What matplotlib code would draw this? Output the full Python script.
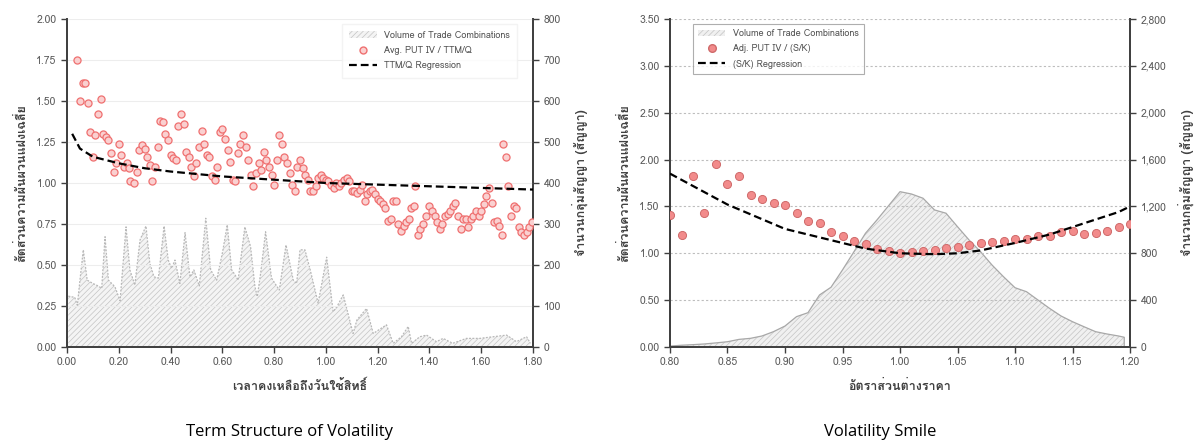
import matplotlib
matplotlib.use("Agg")
import matplotlib.pyplot as plt
from matplotlib import font_manager, ft2font
from matplotlib.patches import Patch
from matplotlib.lines import Line2D
from matplotlib.ticker import FuncFormatter, MultipleLocator

# ---------------- data: term structure ----------------
ttm_x = [0.04, 0.05, 0.06, 0.07, 0.08, 0.09, 0.10, 0.11, 0.12, 0.13, 0.14, 0.15, 0.16, 0.17, 0.18, 0.19,
         0.20, 0.21, 0.22, 0.23, 0.24, 0.245, 0.26, 0.27, 0.28, 0.29, 0.30, 0.31, 0.32, 0.33, 0.34, 0.35,
         0.36, 0.37, 0.38, 0.39, 0.40, 0.41, 0.42, 0.43, 0.44, 0.45, 0.46, 0.47, 0.48, 0.49, 0.50, 0.51,
         0.52, 0.53, 0.54, 0.55, 0.56, 0.57, 0.58, 0.59, 0.60, 0.61, 0.62, 0.63, 0.64, 0.65, 0.66, 0.67,
         0.68, 0.69, 0.70, 0.71, 0.72, 0.73, 0.74, 0.75, 0.76, 0.77, 0.78, 0.79, 0.80, 0.81, 0.82, 0.83,
         0.84, 0.85, 0.86, 0.87, 0.88, 0.89, 0.90, 0.91, 0.92, 0.93, 0.94, 0.95, 0.96, 0.97, 0.98, 0.99,
         1.00, 1.01, 1.02, 1.03, 1.04, 1.05, 1.06, 1.07, 1.08, 1.09, 1.10, 1.11, 1.12, 1.13, 1.14, 1.15,
         1.16, 1.17, 1.18, 1.19, 1.20, 1.21, 1.22, 1.23, 1.24, 1.25, 1.26, 1.27, 1.28, 1.29, 1.30, 1.31,
         1.32, 1.33, 1.34, 1.345, 1.355, 1.365, 1.375, 1.385, 1.40, 1.41, 1.42, 1.43, 1.44, 1.45, 1.46,
         1.47, 1.48, 1.49, 1.50, 1.51, 1.52, 1.53, 1.54, 1.55, 1.56, 1.57, 1.58, 1.59, 1.60, 1.61, 1.62,
         1.63, 1.64, 1.65, 1.66, 1.67, 1.68, 1.685, 1.695, 1.705, 1.715, 1.725, 1.735, 1.745, 1.755,
         1.765, 1.775, 1.785, 1.795]
ttm_iv = [1.75, 1.50, 1.61, 1.61, 1.49, 1.31, 1.16, 1.29, 1.42, 1.51, 1.30, 1.28, 1.26, 1.18, 1.07, 1.12,
          1.24, 1.17, 1.10, 1.12, 1.09, 1.01, 1.00, 1.07, 1.20, 1.23, 1.21, 1.16, 1.11, 1.01, 1.10, 1.22,
          1.38, 1.37, 1.30, 1.26, 1.17, 1.15, 1.14, 1.35, 1.42, 1.36, 1.19, 1.16, 1.10, 1.04, 1.12, 1.22,
          1.32, 1.24, 1.17, 1.16, 1.04, 1.02, 1.10, 1.31, 1.33, 1.27, 1.20, 1.13, 1.02, 1.01, 1.18, 1.24,
          1.29, 1.22, 1.14, 1.05, 0.98, 1.06, 1.12, 1.08, 1.19, 1.14, 1.10, 1.05, 0.99, 1.14, 1.29, 1.24,
          1.16, 1.12, 1.06, 0.99, 0.95, 1.10, 1.14, 1.09, 1.05, 1.02, 0.95, 0.95, 0.98, 1.03, 1.05, 1.03,
          1.02, 1.01, 0.99, 0.97, 1.00, 0.98, 1.00, 1.02, 1.03, 1.01, 0.95, 0.95, 0.94, 0.96, 0.99, 0.89,
          0.93, 0.95, 0.96, 0.93, 0.90, 0.89, 0.87, 0.85, 0.77, 0.78, 0.89, 0.89, 0.75, 0.71, 0.74, 0.76,
          0.78, 0.85, 0.86, 0.98, 0.68, 0.72, 0.75, 0.80, 0.86, 0.83, 0.80, 0.76, 0.72, 0.75, 0.80,
          0.81, 0.83, 0.86, 0.88, 0.80, 0.72, 0.78, 0.78, 0.73, 0.78, 0.80, 0.83, 0.80, 0.83, 0.87, 0.92,
          0.97, 0.88, 0.76, 0.77, 0.74, 0.68, 1.24, 1.16, 0.98, 0.80, 0.86, 0.85, 0.73, 0.70,
          0.68, 0.70, 0.73, 0.76]

ttm_reg_x = [0.02, 0.05, 0.10, 0.20, 0.30, 0.40, 0.60, 0.80, 1.00, 1.20, 1.40, 1.60, 1.80]
ttm_reg_y = [1.30, 1.21, 1.16, 1.12, 1.09, 1.07, 1.04, 1.02, 1.00, 0.99, 0.98, 0.97, 0.96]

ttm_vol_x = [0.005, 0.03, 0.04, 0.05, 0.063, 0.078, 0.10, 0.12, 0.134, 0.147, 0.16, 0.185, 0.205, 0.228,
             0.243, 0.262, 0.282, 0.305, 0.32, 0.336, 0.353, 0.375, 0.391, 0.404, 0.417, 0.436, 0.456,
             0.475, 0.49, 0.511, 0.536, 0.555, 0.578, 0.601, 0.619, 0.636, 0.649, 0.661, 0.687, 0.709,
             0.726, 0.735, 0.748, 0.767, 0.79, 0.82, 0.846, 0.874, 0.887, 0.90, 0.919, 0.938, 0.97, 1.003,
             1.028, 1.044, 1.067, 1.105, 1.12, 1.157, 1.183, 1.234, 1.26, 1.292, 1.318, 1.331, 1.363,
             1.389, 1.427, 1.453, 1.49, 1.543, 1.595, 1.646, 1.698, 1.736, 1.775, 1.79]
ttm_vol = [124, 121, 102, 163, 237, 163, 155, 149, 143, 269, 163, 147, 113, 293,
           188, 151, 261, 295, 204, 171, 168, 295, 212, 192, 212, 155, 279,
           171, 188, 149, 314, 188, 163, 232, 298, 188, 176, 163, 293, 245,
           147, 123, 180, 281, 168, 139, 249, 163, 155, 237, 237, 192, 107, 219,
           86, 100, 127, 33, 66, 94, 33, 54, 9, 25, 50, 9, 25,
           29, 13, 21, 9, 21, 21, 25, 29, 13, 25, 9]

# ---------------- data: volatility smile ----------------
sk_x = [0.80, 0.81, 0.82, 0.83, 0.84, 0.85, 0.86, 0.87, 0.88, 0.89, 0.90, 0.91, 0.92, 0.93, 0.94, 0.95,
        0.96, 0.97, 0.98, 0.99, 1.00, 1.01, 1.02, 1.03, 1.04, 1.05, 1.06, 1.07, 1.08, 1.09, 1.10, 1.11,
        1.12, 1.13, 1.14, 1.15, 1.16, 1.17, 1.18, 1.19, 1.20]
sk_iv = [1.41, 1.20, 1.83, 1.43, 1.95, 1.74, 1.83, 1.62, 1.58, 1.54, 1.52, 1.43, 1.34, 1.32, 1.23, 1.18,
         1.13, 1.10, 1.05, 1.02, 1.00, 1.01, 1.02, 1.04, 1.06, 1.07, 1.09, 1.11, 1.12, 1.13, 1.15, 1.15,
         1.18, 1.18, 1.23, 1.24, 1.21, 1.22, 1.24, 1.28, 1.31]

sk_reg_x = [0.80, 0.85, 0.90, 0.95, 0.97, 1.00, 1.03, 1.05, 1.07, 1.10, 1.13, 1.16, 1.19, 1.20]
sk_reg_y = [1.85, 1.52, 1.26, 1.11, 1.05, 1.00, 0.99, 1.00, 1.03, 1.11, 1.20, 1.32, 1.44, 1.50]

sk_vol_x = [0.80, 0.81, 0.82, 0.83, 0.84, 0.85, 0.86, 0.87, 0.88, 0.89, 0.90, 0.91, 0.92, 0.93, 0.94,
            0.95, 0.96, 0.97, 0.98, 0.99, 1.00, 1.01, 1.02, 1.03, 1.04, 1.05, 1.06, 1.07, 1.08, 1.09,
            1.10, 1.11, 1.12, 1.13, 1.14, 1.15, 1.16, 1.17, 1.18, 1.19, 1.195]
sk_vol = [8, 15, 20, 26, 35, 45, 65, 74, 94, 131, 179, 259, 293, 444, 510,
          658, 814, 971, 1085, 1205, 1326, 1306, 1270, 1170, 1142, 1027, 914, 814, 700, 600,
          506, 472, 401, 330, 265, 216, 173, 131, 111, 94, 83]

# ---------------- text ----------------
title_left = "Term Structure of Volatility"
title_right = "Volatility Smile"
xlabel_left = "เวลาคงเหลือถึงวันใช้สิทธิ์"
xlabel_right = "อัตราส่วนต่างราคา"
ylabel_iv = "สัดส่วนความผันผวนแฝงเฉลี่ย"
ylabel_vol = "จำนวนกลุ่มสัญญา (สัญญา)"

# ---------------- fonts ----------------
thai_family = None
for fe in font_manager.fontManager.ttflist:
    try:
        f = ft2font.FT2Font(fe.fname)
        if f.get_char_index(0x0E2A) and f.get_char_index(0x0E31):
            thai_family = fe.name
            break
    except Exception:
        pass
families = ([thai_family] if thai_family else []) + ["DejaVu Sans"]
plt.rcParams["font.family"] = families
plt.rcParams["hatch.linewidth"] = 0.5

TICK_COLOR = "#595959"
SPINE_COLOR = "#404040"
HATCH_EDGE = "#c4c4c4"

fig = plt.figure(figsize=(11.95, 4.45), dpi=100)


def style_axes(ax, ax2):
    for a in (ax, ax2):
        a.spines["top"].set_visible(False)
        for s in ("left", "right", "bottom"):
            a.spines[s].set_color(SPINE_COLOR)
            a.spines[s].set_linewidth(1.3)
        a.tick_params(colors=SPINE_COLOR, labelcolor=TICK_COLOR, labelsize=7.5,
                      direction="out", length=4, width=1.0)
    ax.set_zorder(ax2.get_zorder() + 1)
    ax.patch.set_visible(False)


# ---------------- left chart ----------------
axL = fig.add_axes([67 / 1195, 98 / 445, 466 / 1195, 328 / 445])
axL2 = axL.twinx()
style_axes(axL, axL2)

axL2.fill_between(ttm_vol_x, ttm_vol, 0, facecolor="#f4f4f4", edgecolor=HATCH_EDGE,
                  hatch="//////", linewidth=0.0)
axL2.plot(ttm_vol_x, ttm_vol, color="#b8b8b8", linestyle=(0, (1.5, 1.2)), linewidth=0.9)
axL2.set_ylim(0, 800)
axL2.yaxis.set_major_locator(MultipleLocator(100))

axL.scatter(ttm_x, ttm_iv, s=26, facecolor="#fad0d0", edgecolor="#ef7070", linewidth=0.9, zorder=3)
axL.plot(ttm_reg_x, ttm_reg_y, color="black", linestyle=(0, (3.5, 1.8)), linewidth=1.6, zorder=4)
axL.set_xlim(0, 1.8)
axL.set_ylim(0, 2.0)
axL.xaxis.set_major_locator(MultipleLocator(0.2))
axL.yaxis.set_major_locator(MultipleLocator(0.25))
axL.xaxis.set_major_formatter(FuncFormatter(lambda v, p: f"{v:.2f}"))
axL.yaxis.set_major_formatter(FuncFormatter(lambda v, p: f"{v:.2f}"))
axL.grid(axis="y", color="#ededed", linewidth=0.8)
axL.set_axisbelow(True)
axL.set_xlabel(xlabel_left, fontsize=9, fontweight="bold", color="#404040", labelpad=9)
axL.set_ylabel(ylabel_iv, fontsize=9, fontweight="bold", color="#404040", labelpad=6)
axL2.set_ylabel(ylabel_vol, fontsize=9, fontweight="bold", color="#404040", rotation=90, labelpad=8)

handlesL = [Patch(facecolor="#f4f4f4", edgecolor=HATCH_EDGE, hatch="//////", linewidth=0.0),
            Line2D([], [], linestyle="none", marker="o", markersize=5, markerfacecolor="#fad0d0",
                   markeredgecolor="#ef7070"),
            Line2D([], [], color="black", linestyle=(0, (3.5, 1.8)), linewidth=1.6)]
legL = axL.legend(handlesL, ["Volume of Trade Combinations", "Avg. PUT IV / TTM/Q", "TTM/Q Regression"],
                  loc="upper right", bbox_to_anchor=(0.975, 1.0), fontsize=6.5, frameon=True,
                  fancybox=False, edgecolor="#f0f0f0", handlelength=3.0, borderpad=0.8,
                  labelspacing=0.7)
for t in legL.get_texts():
    t.set_color("#505050")

# ---------------- right chart ----------------
axR = fig.add_axes([670 / 1195, 98 / 445, 460 / 1195, 328 / 445])
axR2 = axR.twinx()
style_axes(axR, axR2)

axR2.fill_between(sk_vol_x, sk_vol, 0, facecolor="#f0f0f0", edgecolor=HATCH_EDGE,
                  hatch="//////", linewidth=0.0)
axR2.plot(sk_vol_x + [sk_vol_x[-1]], sk_vol + [0], color="#a8a8a8", linewidth=0.9)
axR2.set_ylim(0, 2800)
axR2.yaxis.set_major_locator(MultipleLocator(400))
axR2.yaxis.set_major_formatter(FuncFormatter(lambda v, p: f"{int(v):,}"))

axR.scatter(sk_x, sk_iv, s=34, facecolor="#f28b8b", edgecolor="#cf6a6a", linewidth=0.7, zorder=3)
axR.plot(sk_reg_x, sk_reg_y, color="black", linestyle=(0, (3.5, 1.8)), linewidth=1.6, zorder=4)
axR.set_xlim(0.8, 1.2)
axR.set_ylim(0, 3.5)
axR.xaxis.set_major_locator(MultipleLocator(0.05))
axR.yaxis.set_major_locator(MultipleLocator(0.5))
axR.xaxis.set_major_formatter(FuncFormatter(lambda v, p: f"{v:.2f}"))
axR.yaxis.set_major_formatter(FuncFormatter(lambda v, p: f"{v:.2f}"))
axR.grid(axis="y", color="#bdbdbd", linewidth=0.8, linestyle=(0, (2, 2)))
axR.set_axisbelow(True)
axR.set_xlabel(xlabel_right, fontsize=9, fontweight="bold", color="#404040", labelpad=9)
axR.set_ylabel(ylabel_iv, fontsize=9, fontweight="bold", color="#404040", labelpad=6)
axR2.set_ylabel(ylabel_vol, fontsize=9, fontweight="bold", color="#404040", rotation=90, labelpad=8)

handlesR = [Patch(facecolor="#f0f0f0", edgecolor=HATCH_EDGE, hatch="//////", linewidth=0.0),
            Line2D([], [], linestyle="none", marker="o", markersize=5.5, markerfacecolor="#f28b8b",
                   markeredgecolor="#cf6a6a"),
            Line2D([], [], color="black", linestyle=(0, (3.5, 1.8)), linewidth=1.6)]
legR = axR.legend(handlesR, ["Volume of Trade Combinations", "Adj. PUT IV / (S/K)", "(S/K) Regression"],
                  loc="upper left", bbox_to_anchor=(0.04, 1.0), fontsize=6.5, frameon=True,
                  fancybox=False, edgecolor="#9a9a9a", handlelength=3.0, borderpad=0.6,
                  labelspacing=0.7)
legR.get_frame().set_linewidth(0.8)
for t in legR.get_texts():
    t.set_color("#505050")

# ---------------- captions ----------------
fig.text(290 / 1195, 1 - 432 / 445, title_left, ha="center", va="center", fontsize=12,
         family=["Open Sans", "DejaVu Sans"])
fig.text(880 / 1195, 1 - 432 / 445, title_right, ha="center", va="center", fontsize=12,
         family=["Open Sans", "DejaVu Sans"])

fig.savefig("out.png", dpi=100, facecolor="white")
